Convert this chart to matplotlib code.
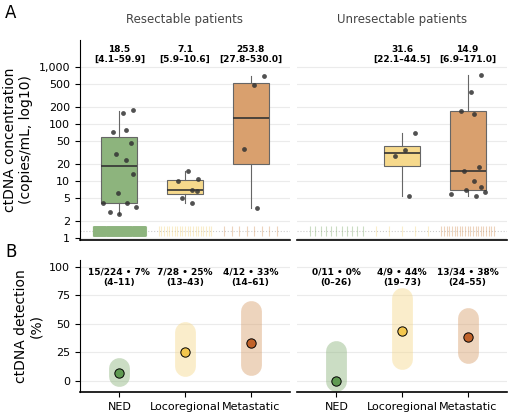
import numpy as np
import matplotlib
matplotlib.use("Agg")
import matplotlib.pyplot as plt

cats = ["NED", "Locoregional", "Metastatic"]
colors = ["#8db47d", "#f6d98c", "#d9a06e"]
dot_colors = ["#5f9a52", "#f3c74e", "#c0622a"]

# Panel A data (copies/mL)
res_pts = [
    [180, 155, 74, 80, 46, 30, 23.7, 13.5, 6.3, 4.1, 4.1, 3.5, 2.9, 2.7],
    [11.1, 15, 9.9, 7.1, 6.8, 5.0, 4.1],
    [710, 480, 36, 3.4],
]
res_box = [(2.7, 4.1, 18.5, 59.9, 170), (4.1, 5.9, 7.1, 10.6, 15), (3.4, 20, 130, 530, 710)]
res_lab = ["18.5\n[4.1–59.9]", "7.1\n[5.9–10.6]", "253.8\n[27.8–530.0]"]
unres_pts = [
    [],
    [71, 35.5, 27.6, 5.4],
    [720, 370, 170, 150, 17.6, 14.9, 10.2, 8.0, 6.9, 6.0, 5.4, 6.4],
]
unres_box = [None, (5.4, 18.5, 31.6, 42, 70), (5.4, 6.9, 14.9, 171, 720)]
unres_lab = ["", "31.6\n[22.1–44.5]", "14.9\n[6.9–171.0]"]
res_undetected = [209, 21, 8]
unres_undetected = [11, 5, 21]

# Panel B data
res_det = [7, 25, 33]
res_ci = [(4, 11), (13, 43), (14, 61)]
res_txt = ["15/224 • 7%\n(4–11)", "7/28 • 25%\n(13–43)", "4/12 • 33%\n(14–61)"]
unres_det = [0, 44, 38]
unres_ci = [(0, 26), (19, 73), (24, 55)]
unres_txt = ["0/11 • 0%\n(0–26)", "4/9 • 44%\n(19–73)", "13/34 • 38%\n(24–55)"]

# jitter offsets for points (fixed, not random)
jit = [0.2, 0.05, -0.1, 0.1, 0.18, -0.05, 0.1, 0.2, -0.02, -0.25, 0.12, 0.26, -0.15, 0.0]

fig = plt.figure(figsize=(5.08, 4.12), dpi=100)
W, H = 508, 412
def ax_at(x0, y0, x1, y1):
    return fig.add_axes([x0 / W, 1 - y1 / H, (x1 - x0) / W, (y1 - y0) / H])

axA1 = ax_at(80, 40, 290, 240)
axA2 = ax_at(297, 40, 507, 240)
axB1 = ax_at(80, 260, 290, 392)
axB2 = ax_at(297, 260, 507, 392)

grid_c = "#ebebeb"
for i, (ax, pts, boxes, labs, und, title) in enumerate([
        (axA1, res_pts, res_box, res_lab, res_undetected, "Resectable patients"),
        (axA2, unres_pts, unres_box, unres_lab, unres_undetected, "Unresectable patients")]):
    ax.set_yscale("log")
    for k in range(3):
        b = boxes[k]
        if b is not None:
            st = [dict(whislo=b[0], q1=b[1], med=b[2], q3=b[3], whishi=b[4], fliers=[])]
            ax.bxp(st, positions=[k + 1], widths=0.55, patch_artist=True, showcaps=False,
                   manage_ticks=False,
                   boxprops=dict(facecolor=colors[k], edgecolor="#666666", lw=0.8),
                   medianprops=dict(color="#333333", lw=1.2),
                   whiskerprops=dict(color="#666666", lw=0.8))
        p = pts[k]
        if p:
            xs = [k + 1 + jit[j % len(jit)] for j in range(len(p))]
            ax.scatter(xs, p, s=12, color="#333333", alpha=0.85, zorder=5, lw=0)
        if labs[k]:
            ax.text(k + 1, 1650, labs[k], ha="center", va="center", fontsize=6.5,
                    fontweight="bold", linespacing=1.1)
        n = und[k]
        xr = np.linspace(k + 1 - 0.4, k + 1 + 0.4, n)
        alpha = 0.9 if n > 100 else 0.45
        ax.scatter(xr, [1.35] * n, marker="|", s=60, color=colors[k], alpha=alpha, lw=0.8, zorder=3)
    ax.axhline(1.35, color="#cccccc", ls=":", lw=0.8, zorder=2)
    ax.set_ylim(0.93, 3000)
    ax.set_xlim(0.4, 3.6)
    ax.set_yticks([1, 2, 5, 10, 20, 50, 100, 200, 500, 1000])
    ax.set_yticks([], minor=True)
    ax.set_xticks([])
    ax.grid(axis="y", color=grid_c, lw=0.8)
    ax.set_axisbelow(True)
    for s in ["top", "right", "left"]:
        ax.spines[s].set_visible(False)
    ax.spines["bottom"].set_linewidth(1.2)
    ax.set_title(title, fontsize=8.5, color="#444444", pad=12)
    if i == 0:
        ax.set_yticklabels(["1", "2", "5", "10", "20", "50", "100", "200", "500", "1,000"], fontsize=8)
        ax.spines["left"].set_visible(True)
        ax.set_ylabel("ctDNA concentration\n(copies/mL, log10)", fontsize=10)
    else:
        ax.set_yticklabels([])
        ax.tick_params(axis="y", length=0)

for i, (ax, det, ci, txt) in enumerate([(axB1, res_det, res_ci, res_txt), (axB2, unres_det, unres_ci, unres_txt)]):
    ax.set_xlim(0.4, 3.6)
    ax.set_ylim(-10, 106)
    ax.set_yticks([0, 25, 50, 75, 100])
    ax.grid(axis="y", color=grid_c, lw=0.8)
    ax.set_axisbelow(True)
    for s in ["top", "right", "left"]:
        ax.spines[s].set_visible(False)
    ax.spines["bottom"].set_linewidth(1.2)
    ax.set_xticks([1, 2, 3])
    ax.set_xticklabels(cats, fontsize=8)
    for k in range(3):
        ax.plot([k + 1, k + 1], [ci[k][0], ci[k][1]], color=colors[k], lw=15,
                solid_capstyle="round", alpha=0.45, zorder=2)
        ax.scatter([k + 1], [det[k]], s=45, color=dot_colors[k], edgecolor="black", lw=0.7, zorder=4)
        ax.text(k + 1, 91, txt[k], ha="center", va="center", fontsize=6.5,
                fontweight="bold", linespacing=1.15)
    if i == 0:
        ax.spines["left"].set_visible(True)
        ax.set_yticklabels(["0", "25", "50", "75", "100"], fontsize=8)
        ax.set_ylabel("ctDNA detection\n(%)", fontsize=10)
    else:
        ax.set_yticklabels([])
        ax.tick_params(axis="y", length=0)

fig.text(5 / W, 1 - 13 / H, "A", fontsize=12, va="center")
fig.text(5 / W, 1 - 252 / H, "B", fontsize=12, va="center")
fig.savefig("out.png", dpi=100)
